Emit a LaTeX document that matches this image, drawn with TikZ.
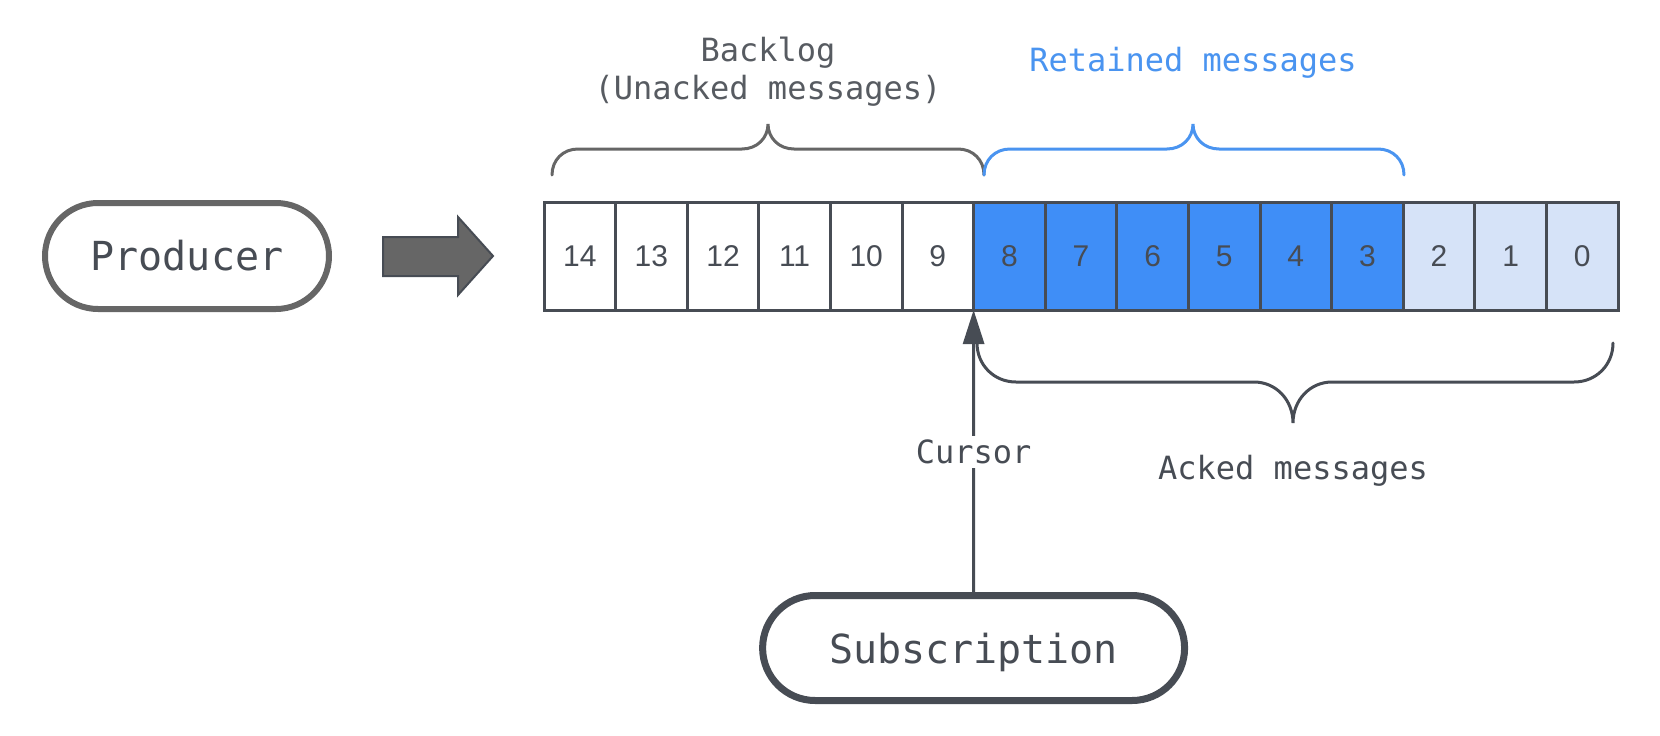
\documentclass[tikz,border=0pt]{standalone}
\usepackage{fontspec}
\setmainfont{Liberation Sans}
\newfontfamily\monof{DejaVu Sans Mono}
\usetikzlibrary{arrows.meta,shapes.misc}
\definecolor{dark}{HTML}{474C54}
\definecolor{midgray}{HTML}{666666}
\definecolor{cellblue}{HTML}{3F8EF7}
\definecolor{celllight}{HTML}{D6E3F8}
\definecolor{braceblue}{HTML}{4A94F0}
\definecolor{labgray}{HTML}{575B61}
\tikzset{
  cellbox/.style={draw=dark, line width=3pt, minimum width=71.6pt, minimum height=108pt,
    inner sep=0pt, outer sep=0pt, text=dark, font=\fontsize{30}{34}\selectfont},
  pill/.style={rounded rectangle, line width=6pt, fill=white, text=dark,
    font=\monof\fontsize{40}{46}\selectfont, inner sep=0pt},
  lab/.style={font=\monof\fontsize{32}{38}\selectfont, text=dark, inner sep=2pt},
  bracestyle/.style={line width=3pt, line cap=round},
}
\begin{document}
\begin{tikzpicture}[x=1pt,y=-1pt]
\useasboundingbox (0,0) rectangle (1660,736);
% cells
\foreach \n [count=\i from 0] in {14,13,12,11,10,9,8,7,6,5,4,3,2,1,0}{
  \pgfmathsetmacro{\cx}{544+71.6*(\i+0.5)}
  \ifnum\n>8 \def\fc{white}\else\ifnum\n>2 \def\fc{cellblue}\else\def\fc{celllight}\fi\fi
  \node[cellbox, fill=\fc] (c\n) at (\cx,256) {\n};
}
% producer
\node[pill, draw=midgray, minimum width=284pt, minimum height=106pt] (prod) at (187,256) {Producer};
% big arrow
\draw[fill=midgray, draw=dark, line width=2pt, line join=miter]
  (383,237) -- (458,237) -- (458,217) -- (493,256) -- (458,295) -- (458,276) -- (383,276) -- cycle;
% subscription
\node[pill, draw=dark, line width=7pt, minimum width=422pt, minimum height=105pt, text depth=0pt] (sub) at (973.6,648) {Subscription};
% cursor arrow
\draw[dark, line width=3pt, -{Triangle[length=34pt, width=21pt]}] (sub.north) -- (c9.south east);
\node[lab, fill=white, inner sep=4pt] (cur) at (973.6,452) {Cursor};
% backlog brace
\draw[bracestyle, midgray] (552,175) .. controls (552,160) and (563,149) .. (578,149) -- (742,149)
  .. controls (757,149) and (768,138) .. (768,124) .. controls (768,138) and (779,149) .. (794,149) -- (958,149)
  .. controls (973,149) and (984,160) .. (984,175);
\node[lab, text=labgray, align=center] (backlog) at (768,72) {Backlog\\(Unacked messages)};
% retained brace
\draw[bracestyle, braceblue] (984,175) .. controls (984,160) and (995,149) .. (1010,149) -- (1167,149)
  .. controls (1182,149) and (1193,138) .. (1193,124) .. controls (1193,138) and (1204,149) .. (1219,149) -- (1378,149)
  .. controls (1393,149) and (1404,160) .. (1404,175);
\node[lab, text=braceblue] (ret) at (1193,63) {Retained messages};
% acked brace
\draw[bracestyle, dark] (977,343) .. controls (977,365) and (994,382) .. (1016,382) -- (1254,382)
  .. controls (1276,382) and (1293,400) .. (1293,423) .. controls (1293,400) and (1310,382) .. (1332,382) -- (1574,382)
  .. controls (1596,382) and (1613,365) .. (1613,343);
\node[lab] (acked) at (1293,471) {Acked messages};
\end{tikzpicture}
\end{document}
